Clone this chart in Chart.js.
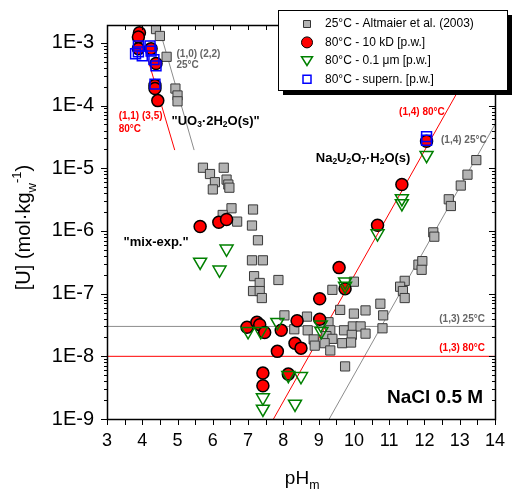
<!DOCTYPE html>
<html>
<head>
<meta charset="utf-8">
<script src="https://cdn.jsdelivr.net/npm/chart.js@4.4.0/dist/chart.umd.min.js"></script>
<style>
  html, body { margin: 0; padding: 0; background: #fff; }
  #wrap { width: 516px; height: 490px; }
</style>
</head>
<body>
<div id="wrap"><canvas id="uChart" width="516" height="490"></canvas></div>
<script>
// --- axis ranges ---
const X_MIN = 3, X_MAX = 14;
const Y_MIN = 1e-9, Y_MAX = 1.93e-3;
const xTicks = [3, 4, 5, 6, 7, 8, 9, 10, 11, 12, 13, 14];
const yTicks = [1e-9, 1e-8, 1e-7, 1e-6, 1e-5, 1e-4, 1e-3];

// 25°C - Altmaier et al. (2003)
const altmaierPH = [4.39, 4.50, 4.69, 4.94, 5.00, 5.00, 5.72, 5.92, 6.31, 6.06, 6.39, 6.44, 6.00, 6.47,
  6.53, 6.28, 7.14, 6.69, 7.11, 7.28, 7.11, 7.42, 7.17, 7.33, 7.86, 7.14, 7.33, 7.39, 8.03, 8.67,
  8.31, 8.69, 9.39, 10.00, 9.61, 10.00, 10.33, 10.75, 10.83, 10.81, 9.28, 9.33, 9.72, 9.97, 10.19,
  10.33, 9.94, 9.22, 9.39, 8.86, 9.17, 9.33, 9.67, 9.92, 8.89, 9.75, 12.25, 12.28, 11.83, 11.94,
  11.92, 11.44, 11.31, 11.39, 11.44, 13.47, 13.22, 13.03, 12.69, 12.75];
const altmaierU = [1.66e-3, 1.29e-3, 6.0e-4, 1.87e-4, 1.45e-4, 1.17e-4, 1.02e-5, 8.1e-6, 1.02e-5, 6.0e-6,
  6.6e-6, 5.5e-6, 4.6e-6, 4.9e-6, 2.3e-6, 1.8e-6, 2.2e-6, 1.41e-6, 1.22e-6, 7.1e-7, 3.4e-7, 3.4e-7,
  1.9e-7, 1.48e-7, 1.65e-7, 1.1e-7, 1.1e-7, 8.5e-8, 4.5e-8, 4.3e-8, 2.7e-8, 2.6e-8, 1.15e-7, 1.55e-7,
  5.5e-8, 4.8e-8, 5.4e-8, 6.9e-8, 4.5e-8, 2.8e-8, 3.5e-8, 2.6e-8, 2.6e-8, 3.0e-8, 3.0e-8, 2.3e-8,
  2.2e-8, 2.1e-8, 1.9e-8, 1.86e-8, 1.62e-8, 1.24e-8, 1.62e-8, 1.66e-8, 1.48e-8, 6.9e-9, 9.5e-7,
  8.1e-7, 2.9e-7, 3.3e-7, 2.4e-7, 1.6e-7, 1.29e-7, 1.1e-7, 8.5e-8, 1.35e-5, 7.9e-6, 5.3e-6, 3.2e-6, 2.5e-6];

// 80°C - 10 kD
const kdPH = [3.92, 3.89, 3.89, 4.25, 4.39, 4.36, 4.36, 4.44, 5.64, 6.17, 6.39, 9.58, 9.75, 9.03, 6.97,
  7.25, 7.33, 7.47, 7.94, 8.39, 9.03, 8.33, 8.50, 7.83, 7.42, 7.42, 8.14, 10.67, 11.36, 12.06];
const kdU = [1.45e-3, 1.24e-3, 8.1e-4, 8.1e-4, 4.7e-4, 2.1e-4, 1.87e-4, 1.2e-4, 1.18e-6, 1.38e-6, 1.52e-6,
  2.6e-7, 1.2e-7, 8.3e-8, 2.9e-8, 3.5e-8, 3.2e-8, 2.4e-8, 2.6e-8, 3.7e-8, 3.9e-8, 1.62e-8, 1.35e-8,
  1.2e-8, 5.4e-9, 3.4e-9, 5.2e-9, 1.23e-6, 5.5e-6, 2.7e-5];

// 80°C - 0.1 µm
const umPH = [6.39, 5.64, 6.19, 9.75, 9.75, 7.83, 7.00, 7.36, 9.06, 9.08, 8.14, 8.50, 7.42, 7.42, 8.33,
  10.67, 11.36, 11.36, 12.06];
const umU = [5.2e-7, 3.2e-7, 2.4e-7, 1.55e-7, 1.32e-7, 3.5e-8, 2.5e-8, 2.5e-8, 3.2e-8, 2.5e-8, 5.0e-9,
  4.8e-9, 2.2e-9, 1.45e-9, 1.74e-9, 9.1e-7, 3.3e-6, 2.75e-6, 1.62e-5];

// 80°C - supernatant
const supPH = [3.89, 3.89, 3.81, 4.00, 4.22, 4.25, 4.33, 4.39, 4.36, 12.06, 12.06];
const supU = [8.9e-4, 7.2e-4, 6.7e-4, 6.2e-4, 8.9e-4, 7.4e-4, 5.4e-4, 4.3e-4, 2.2e-4, 3.2e-5, 2.8e-5];

// solubility lines
const l13_25PH = [3, 14],        l13_25U = [3e-8, 3e-8];
const l13_80PH = [3, 14],        l13_80U = [1e-8, 1e-8];
const l14_25PH = [9.3, 14],      l14_25U = [1e-9, 5.0e-5];
const l14_80PH = [7.72, 14],     l14_80U = [1e-9, 1.9e-3];
const l1135_80PH = [3.89, 4.92], l1135_80U = [1.79e-3, 1.95e-5];
const l1022_25PH = [4.47, 5.47], l1022_25U = [1.79e-3, 1.95e-5];

const pts = (xs, ys) => xs.map((x, i) => ({ x: x, y: ys[i] }));

const FONT = '"Liberation Sans", Arial, sans-serif';
const GREY_TXT = '#666666';
const RED = '#ff0000';

function lineSet(xs, ys, color) {
  return {
    data: pts(xs, ys), showLine: true, borderColor: color, borderWidth: 1,
    pointRadius: 0, order: 10, clip: 0
  };
}

// text labels: [pH, U, text parts, colour, size]
const notes = [
  [4.97, 6.7e-4, [['(1,0) (2,2)']], GREY_TXT, 10],
  [4.97, 4.33e-4, [['25°C']], GREY_TXT, 10],
  [3.33, 6.75e-5, [['(1,1) (3,5)']], RED, 10],
  [3.33, 4.2e-5, [['80°C']], RED, 10],
  [4.83, 5.6e-5, [['"UO'], ['3', 'sub'], ['·2H'], ['2', 'sub'], ['O(s)"']], '#000', 13],
  [8.92, 1.46e-5, [['Na'], ['2', 'sub'], ['U'], ['2', 'sub'], ['O'], ['7', 'sub'], ['·H'], ['2', 'sub'], ['O(s)']], '#000', 13],
  [3.47, 6.6e-7, [['"mix-exp."']], '#000', 13],
  [11.28, 7.8e-5, [['(1,4) 80°C']], RED, 10],
  [12.47, 2.82e-5, [['(1,4) 25°C']], GREY_TXT, 10],
  [12.42, 3.85e-8, [['(1,3) 25°C']], GREY_TXT, 10],
  [12.42, 1.34e-8, [['(1,3) 80°C']], RED, 10],
  [10.94, 2.16e-9, [['NaCl 0.5 M']], '#000', 19]
];

// draws text with sub/superscript pieces, starting at (x, y) on the baseline
function richText(ctx, parts, x, y, size, weight) {
  let cx = x;
  parts.forEach(([txt, mode]) => {
    let s = size, dy = 0;
    if (mode === 'sub') { s = size * 0.65; dy = size * 0.28; }
    if (mode === 'sup') { s = size * 0.65; dy = -size * 0.45; }
    ctx.font = weight + ' ' + s + 'px ' + FONT;
    ctx.fillText(txt, cx, y + dy);
    cx += ctx.measureText(txt).width;
  });
  return cx - x;
}

const frameTicks = {
  id: 'frameTicks',
  afterDatasetsDraw(chart) {
    const { ctx, chartArea: a, scales: { x, y } } = chart;
    ctx.save();
    ctx.strokeStyle = '#000';
    ctx.lineWidth = 1.5;
    ctx.strokeRect(a.left + 0.5, a.top + 0.5, a.right - a.left, a.bottom - a.top);
    ctx.lineWidth = 1;
    ctx.beginPath();
    for (let v = X_MIN; v <= X_MAX + 1e-9; v += 0.5) {
      const px = Math.round(x.getPixelForValue(v)) + 0.5;
      ctx.moveTo(px, a.bottom); ctx.lineTo(px, a.bottom + 6);
      ctx.moveTo(px, a.top); ctx.lineTo(px, a.top + 5);
    }
    for (let e = -9; e <= -3; e++) {
      for (let k = 1; k <= 9; k++) {
        const v = k * Math.pow(10, e);
        if (v > Y_MAX) break;
        const py = Math.round(y.getPixelForValue(v)) + 0.5;
        const len = k === 1 ? 6 : 3;
        ctx.moveTo(a.left - len, py); ctx.lineTo(a.left, py);
        ctx.moveTo(a.right, py); ctx.lineTo(a.right - len, py);
      }
    }
    ctx.stroke();

    // labels inside the plot
    ctx.textBaseline = 'middle';
    ctx.textAlign = 'left';
    notes.forEach(([ph, u, parts, color, size]) => {
      ctx.fillStyle = color;
      richText(ctx, parts, x.getPixelForValue(ph), y.getPixelForValue(u), size, 'bold');
    });

    // axis titles
    ctx.fillStyle = '#000';
    ctx.textBaseline = 'alphabetic';
    const midX = (a.left + a.right) / 2;
    ctx.font = '19px ' + FONT;
    const w = ctx.measureText('pH').width + 8;
    richText(ctx, [['pH'], ['m', 'sub']], midX - w / 2, 484, 19, 'normal');

    ctx.save();
    ctx.translate(30, 230);
    ctx.rotate(-Math.PI / 2);
    const yt = [['[U] (mol·kg'], ['w', 'sub'], ['-1', 'sup'], [')']];
    ctx.font = '20px ' + FONT;
    const yw = ctx.measureText('[U] (mol·kg)').width + 16;
    richText(ctx, yt, -yw / 2, 0, 20, 'normal');
    ctx.restore();
    ctx.restore();
  }
};

// boxed legend with drop shadow, top right
const legendRows = [
  { label: '25°C - Altmaier et al. (2003)', shape: 'square', fill: '#b3b3b3', stroke: '#333', r: 3.5 },
  { label: '80°C - 10 kD [p.w.]', shape: 'circle', fill: RED, stroke: '#000', r: 5.5 },
  { label: '80°C - 0.1 μm [p.w.]', shape: 'tri', fill: null, stroke: '#008000', r: 5.5 },
  { label: '80°C - supern. [p.w.]', shape: 'square', fill: null, stroke: '#0000ff', r: 4 }
];
const boxLegend = {
  id: 'boxLegend',
  afterDraw(chart) {
    const ctx = chart.ctx;
    const bx = 278, by = 10, bw = 229, bh = 80;
    ctx.save();
    ctx.fillStyle = '#000';
    ctx.fillRect(bx + 5, by + 5, bw, bh);
    ctx.fillStyle = '#fff';
    ctx.fillRect(bx, by, bw, bh);
    ctx.strokeStyle = '#000';
    ctx.lineWidth = 1;
    ctx.strokeRect(bx + 0.5, by + 0.5, bw, bh);
    ctx.font = '12px ' + FONT;
    ctx.textBaseline = 'middle';
    legendRows.forEach((row, i) => {
      const cy = 24 + i * 18.4, cx = 307;
      ctx.beginPath();
      if (row.shape === 'square') ctx.rect(cx - row.r, cy - row.r, row.r * 2, row.r * 2);
      if (row.shape === 'circle') ctx.arc(cx, cy, row.r, 0, Math.PI * 2);
      if (row.shape === 'tri') {
        ctx.moveTo(cx - row.r, cy - row.r * 0.75);
        ctx.lineTo(cx + row.r, cy - row.r * 0.75);
        ctx.lineTo(cx, cy + row.r * 0.85);
        ctx.closePath();
      }
      if (row.fill) { ctx.fillStyle = row.fill; ctx.fill(); }
      ctx.strokeStyle = row.stroke;
      ctx.lineWidth = row.fill ? 1 : 1.5;
      ctx.stroke();
      ctx.fillStyle = '#000';
      ctx.fillText(row.label, 325, cy);
    });
    ctx.restore();
  }
};

new Chart(document.getElementById('uChart'), {
  type: 'scatter',
  data: {
    datasets: [
      lineSet(l13_25PH, l13_25U, '#8c8c8c'),
      lineSet(l13_80PH, l13_80U, RED),
      lineSet(l14_25PH, l14_25U, '#8c8c8c'),
      lineSet(l14_80PH, l14_80U, RED),
      lineSet(l1135_80PH, l1135_80U, RED),
      lineSet(l1022_25PH, l1022_25U, '#8c8c8c'),
      {
        label: '25°C - Altmaier et al. (2003)', data: pts(altmaierPH, altmaierU), order: 4,
        pointStyle: 'rect', pointRadius: 6.5, pointBackgroundColor: '#b3b3b3',
        pointBorderColor: '#3a3a3a', pointBorderWidth: 1
      },
      {
        label: '80°C - 10 kD [p.w.]', data: pts(kdPH, kdU), order: 3,
        pointStyle: 'circle', pointRadius: 6, pointBackgroundColor: RED,
        pointBorderColor: '#000', pointBorderWidth: 1.5
      },
      {
        label: '80°C - 0.1 μm [p.w.]', data: pts(umPH, umU), order: 2,
        pointStyle: 'triangle', pointRotation: 180, pointRadius: 7.5,
        pointBackgroundColor: 'rgba(0,0,0,0)', pointBorderColor: '#008000', pointBorderWidth: 1.5
      },
      {
        label: '80°C - supern. [p.w.]', data: pts(supPH, supU), order: 1,
        pointStyle: 'rect', pointRadius: 7, pointBackgroundColor: 'rgba(0,0,0,0)',
        pointBorderColor: '#0000ff', pointBorderWidth: 1.5
      }
    ]
  },
  options: {
    responsive: false,
    animation: false,
    events: [],
    layout: { padding: { top: 21, right: 13, left: 0, bottom: 0 } },
    plugins: { legend: { display: false }, tooltip: { enabled: false } },
    scales: {
      x: {
        type: 'linear', min: X_MIN, max: X_MAX,
        afterFit: (s) => { s.height = 71; },
        afterBuildTicks: (s) => { s.ticks = xTicks.map(v => ({ value: v })); },
        grid: { display: false, drawTicks: false },
        border: { display: false },
        ticks: { padding: 11, color: '#000', font: { family: FONT, size: 18 }, maxRotation: 0 }
      },
      y: {
        type: 'logarithmic', min: Y_MIN, max: Y_MAX,
        afterFit: (s) => { s.width = 107; },
        afterBuildTicks: (s) => { s.ticks = yTicks.map(v => ({ value: v })); },
        grid: { display: false, drawTicks: false },
        border: { display: false },
        ticks: {
          padding: 13, color: '#000', font: { family: FONT, size: 20 },
          callback: (v) => '1E' + Math.round(Math.log10(v))
        }
      }
    }
  },
  plugins: [frameTicks, boxLegend]
});
</script>
</body>
</html>
